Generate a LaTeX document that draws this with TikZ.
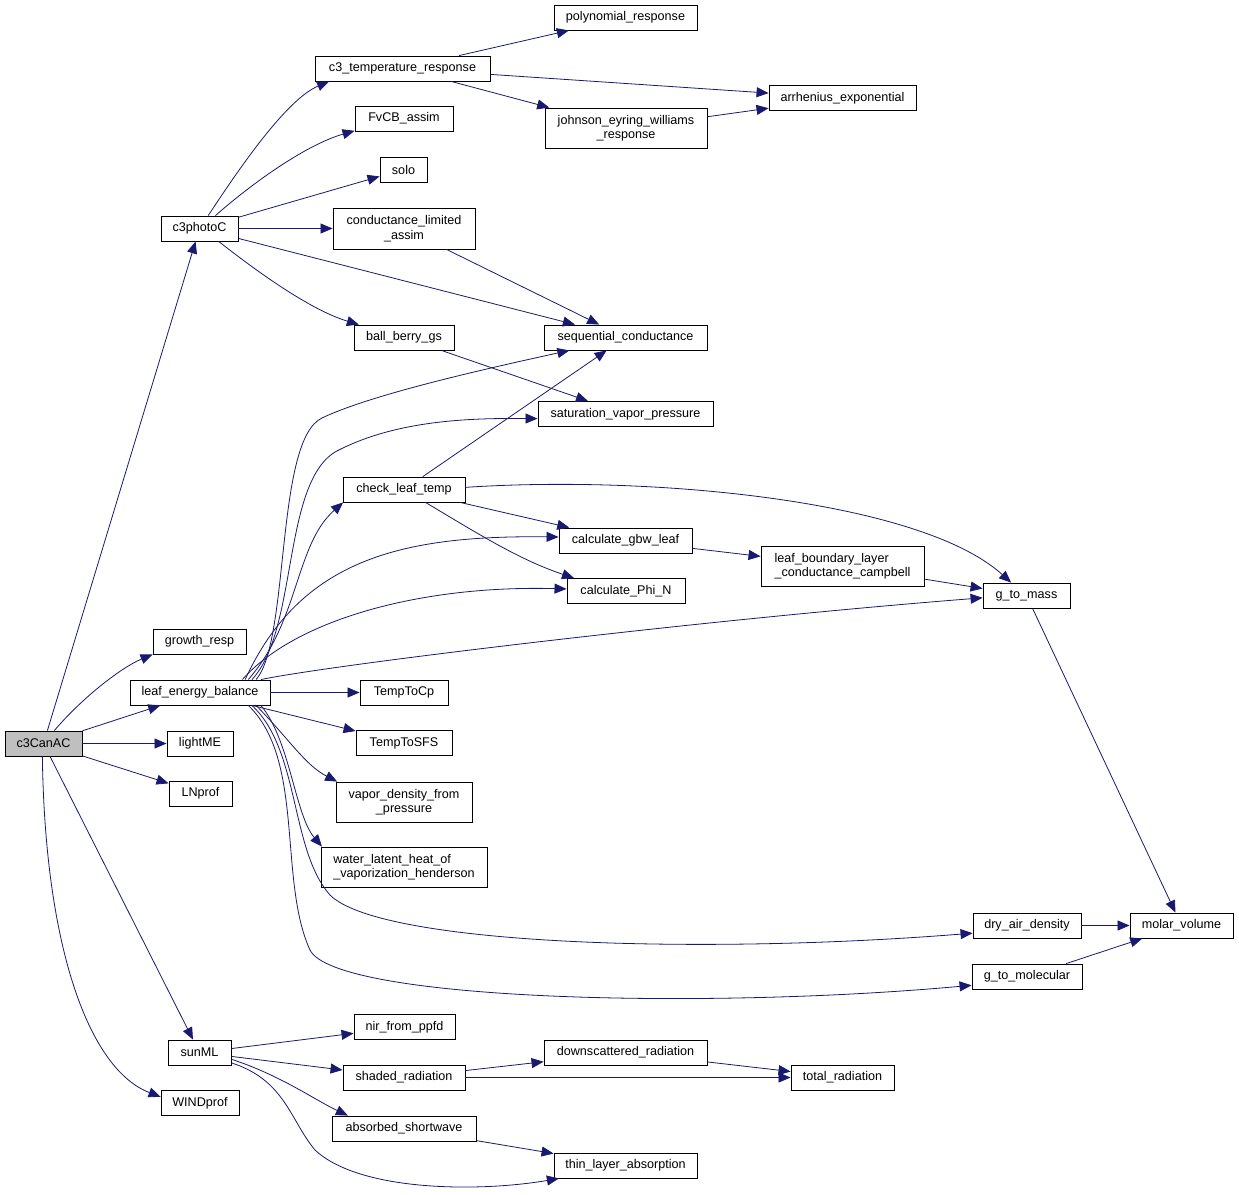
\documentclass[tikz,border=0pt]{standalone}
\usepackage{fontspec}
\setmainfont{Liberation Sans}
\usepackage{xcolor}
\usepackage{tikz}
\usetikzlibrary{arrows.meta}
\definecolor{edgeblue}{HTML}{191970}
\definecolor{rootgray}{HTML}{BFBFBF}

\begin{document}
\begin{tikzpicture}
  [x=1pt,y=-1pt,
   every node/.style={draw=black,line width=0.9pt,inner sep=0pt,minimum height=25pt,
     font=\fontsize{12.6}{14.5}\selectfont},
   call/.style={draw=edgeblue,line width=0.8pt,-{Triangle[length=12pt,width=10pt]}}]
  \useasboundingbox (0,0) rectangle (1239,1194);

  \node[fill=rootgray,minimum width=77pt] (can) at (43.5,743.5) {c3CanAC};

  \node[minimum width=77pt]  (photo)  at (199.5,228.5)  {c3photoC};
  \node[minimum width=93pt]  (growth) at (199.5,641.5)  {growth\_resp};
  \node[minimum width=140pt] (leb)    at (200,692.5)    {leaf\_energy\_balance};
  \node[minimum width=66pt]  (light)  at (200,743.5)    {lightME};
  \node[minimum width=63pt]  (lnprof) at (200.5,793.5)  {LNprof};
  \node[minimum width=63pt]  (sunml)  at (199.5,1052.5) {sunML};
  \node[minimum width=78pt]  (wind)   at (200,1103)     {WINDprof};

  \node[minimum width=175pt] (temp)    at (402.5,68.5)  {c3\_temperature\_response};
  \node[minimum width=98pt]  (fvcb)    at (404,118.5)   {FvCB\_assim};
  \node[minimum width=47pt]  (solo)    at (403.5,169.5) {solo};
  \node[minimum width=142pt,minimum height=41pt,align=center] (condlim) at (404,228.5)
    {conductance\_limited\\\_assim};
  \node[minimum width=100pt] (bbgs)    at (404,337.5)   {ball\_berry\_gs};
  \node[minimum width=122pt] (check)   at (404,489.5)   {check\_leaf\_temp};
  \node[minimum width=88pt]  (tcp)     at (404,692.5)   {TempToCp};
  \node[minimum width=96pt]  (tsfs)    at (404,743)     {TempToSFS};
  \node[minimum width=136pt,minimum height=40pt,align=center] (vapden) at (404,802)
    {vapor\_density\_from\\\_pressure};
  \node[minimum width=166pt,minimum height=40pt,align=left] (latent) at (404,867)
    {water\_latent\_heat\_of\\\_vaporization\_henderson};
  \node[minimum width=101pt] (nir)     at (404.5,1027)  {nir\_from\_ppfd};
  \node[minimum width=122pt] (shaded)  at (404,1077.5)  {shaded\_radiation};
  \node[minimum width=144pt] (absorb)  at (404,1128.5)  {absorbed\_shortwave};

  \node[minimum width=143pt] (poly)    at (625.5,17.5)  {polynomial\_response};
  \node[minimum width=162pt,minimum height=40pt,align=center] (jew) at (626,128)
    {johnson\_eyring\_williams\\\_response};
  \node[minimum width=163pt] (seqc)    at (625.5,337.5) {sequential\_conductance};
  \node[minimum width=175pt] (satvp)   at (625.5,414)   {saturation\_vapor\_pressure};
  \node[minimum width=133pt] (gbw)     at (625.5,540.5) {calculate\_gbw\_leaf};
  \node[minimum width=118pt] (phin)    at (626,591)     {calculate\_Phi\_N};
  \node[minimum width=163pt] (downsc)  at (625.5,1052.5) {downscattered\_radiation};
  \node[minimum width=143pt] (thin)    at (625.5,1165.5) {thin\_layer\_absorption};

  \node[minimum width=147pt] (arrh)    at (842.5,98)    {arrhenius\_exponential};
  \node[minimum width=163pt,minimum height=40pt,align=left] (lblc) at (842.5,566)
    {leaf\_boundary\_layer\\\_conductance\_campbell};
  \node[minimum width=103pt] (totrad)  at (842.5,1077.5) {total\_radiation};

  \node[minimum width=87pt]  (gmass)   at (1026.5,595.5) {g\_to\_mass};
  \node[minimum width=108pt] (dryair)  at (1027,925.5)  {dry\_air\_density};
  \node[minimum width=110pt] (gmol)    at (1027,976.5)  {g\_to\_molecular};
  \node[minimum width=103pt] (molar)   at (1181.5,925.5) {molar\_volume};

  \foreach \from/\to in {can/photo,can/leb,can/light,can/lnprof,can/sunml,
      photo/solo,photo/condlim,photo/seqc,temp/poly,temp/arrh,temp/jew,jew/arrh,
      condlim/seqc,bbgs/satvp,check/seqc,check/gbw,gbw/lblc,lblc/gmass,
      gmass/molar,dryair/molar,gmol/molar,leb/tcp,leb/tsfs,sunml/nir,
      sunml/shaded,shaded/downsc,shaded/totrad,downsc/totrad,absorb/thin}
    \draw[call] (\from) -- (\to);

  \draw[call] (can) .. controls (80,700) and (120,668) .. (growth.south west);
  \draw[call] (can.265) .. controls (45,950) and (90,1070) .. (wind.171);
  \draw[call] (photo.56) .. controls (235,175) and (285,100) .. (temp.190);
  \draw[call] (photo.39) .. controls (250,185) and (305,145) .. (fvcb.194);
  \draw[call] (photo.-34) .. controls (255,270) and (310,310) .. (bbgs.164);
  \draw[call] (leb.13) .. controls (290,640) and (275,440) .. (322,418)
    .. controls (370,395) and (480,370) .. (seqc.193);
  \draw[call] (leb.14) .. controls (298,630) and (282,485) .. (335,452)
    .. controls (395,420) and (470,418) .. (satvp.183);
  \draw[call] (leb.15) .. controls (300,620) and (295,545) .. (check.192);
  \draw[call] (leb.16) .. controls (300,560) and (400,535) .. (gbw.177);
  \draw[call] (leb.17) .. controls (295,620) and (420,585) .. (phin.178);
  \draw[call] (leb.12) .. controls (330,665) and (700,620) .. (gmass.183);
  \draw[call] (leb.-13) .. controls (290,740) and (305,765) .. (vapden.163);
  \draw[call] (leb.-12) .. controls (290,740) and (295,815) .. (latent.166);
  \draw[call] (leb.-14) .. controls (300,750) and (290,850) .. (330,895)
    .. controls (380,945) and (700,955) .. (dryair.188);
  \draw[call] (leb.-15) .. controls (305,760) and (278,880) .. (310,950)
    .. controls (335,1000) and (700,1010) .. (gmol.189);
  \draw[call] (check.2) .. controls (650,475) and (920,500) .. (gmass.140);
  \draw[call] (check.-31) .. controls (480,535) and (520,560) .. (phin.166);
  \draw[call] (sunml.-12) .. controls (280,1075) and (315,1100) .. (absorb.167);
  \draw[call] (sunml.-18) .. controls (285,1080) and (290,1120) .. (315,1150)
    .. controls (360,1192) and (480,1192) .. (thin.191);

\end{tikzpicture}
\end{document}
